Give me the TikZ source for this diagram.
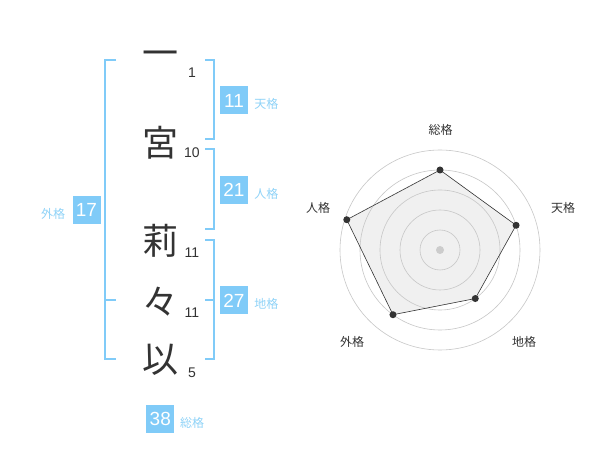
\documentclass[tikz,border=0pt]{standalone}
\usepackage{fontspec}
\setmainfont{Liberation Sans}
\newfontfamily\jpfont{Noto Sans CJK JP}
\usetikzlibrary{positioning}
\definecolor{kakublue}{HTML}{80CBF8}
\definecolor{kakutext}{HTML}{8FD3F8}
\definecolor{inkgray}{HTML}{333333}
\tikzset{
  kanji/.style={font=\jpfont\fontsize{36}{36}\selectfont, text=inkgray, inner sep=0pt},
  strokes/.style={font=\fontsize{14}{14}\selectfont, text=inkgray, inner sep=0pt},
  scorebox/.style={fill=kakublue, text=white, minimum size=28pt, inner sep=0pt,
    font=\fontsize{19}{19}\selectfont},
  kaku/.style={text=kakutext, font=\jpfont\fontsize{12}{12}\selectfont, inner sep=0pt},
  bracket/.style={draw=kakublue, line width=1.8pt},
  ring/.style={draw=black!22, line width=0.6pt},
  radarlabel/.style={text=inkgray, font=\jpfont\fontsize{12}{12}\selectfont, inner sep=0pt},
  radardot/.style={circle, fill=inkgray, inner sep=0pt, minimum size=7pt},
}

\begin{document}
\begin{tikzpicture}[x=1pt,y=-1pt]
  \path[fill=white] (0,0) rectangle (600,470);

  % name and stroke counts
  \foreach \ch/\n/\y/\ny [count=\i] in {一/1/59/73, 宮/10/142.5/153, 莉/11/241/253,
      々/11/301.5/313, 以/5/360/373} {
    \node[kanji] (c\i) at (160,\y) {\ch};
    \node[strokes] (s\i) at (192,\ny) {\n};
  }

  % brackets
  \draw[bracket] (116,60) -- (105,60) -- (105,359) -- (116,359);
  \draw[bracket] (105,300) -- (116,300);
  \draw[bracket] (205,60) -- (214,60) -- (214,139.3) -- (205,139.3);
  \draw[bracket] (205,149.3) -- (214,149.3) -- (214,229.3) -- (205,229.3);
  \draw[bracket] (205,240) -- (214,240) -- (214,359.3) -- (205,359.3);
  \draw[bracket] (205,300) -- (214,300);

  % scores
  \node[scorebox] (ten) at (234,100.5) {11};
  \node[kaku, right=6pt of ten, yshift=-3.5pt] (tenl) {天格};
  \node[scorebox] (jin) at (234,190) {21};
  \node[kaku, right=6pt of jin, yshift=-3.5pt] (jinl) {人格};
  \node[scorebox] (chi) at (234,300.5) {27};
  \node[kaku, right=6pt of chi, yshift=-3.5pt] (chil) {地格};
  \node[scorebox] (gai) at (86.5,210) {17};
  \node[kaku, left=7pt of gai, yshift=-4pt] (gail) {外格};
  \node[scorebox] (sou) at (160.3,419) {38};
  \node[kaku, right=5.5pt of sou, yshift=-4pt] (soul) {総格};

  % radar chart
  \begin{scope}[shift={(440,250)}, yscale=-1]
    \coordinate (rsou) at (90:80);
    \coordinate (rten) at (18:80);
    \coordinate (rchi) at (-54:60);
    \coordinate (rgai) at (-126:80);
    \coordinate (rjin) at (162:98);
    \fill[black!6] (rsou) -- (rten) -- (rchi) -- (rgai) -- (rjin) -- cycle;
    \foreach \r in {20,40,60,80,100}
      \draw[ring] (0,0) circle (\r);
    \fill[black!20] (0,0) circle (4);
    \draw[line width=0.6pt, inkgray] (rsou) -- (rten) -- (rchi) -- (rgai) -- (rjin) -- cycle;
    \foreach \p in {rsou,rten,rchi,rgai,rjin}
      \node[radardot] at (\p) {};
    \node[radarlabel] (lsou) at (0.5,120) {総格};
    \node[radarlabel] (lten) at (123,42) {天格};
    \node[radarlabel] (lchi) at (84,-92) {地格};
    \node[radarlabel] (lgai) at (-88,-92) {外格};
    \node[radarlabel] (ljin) at (-122,42) {人格};
  \end{scope}
\end{tikzpicture}
\end{document}
